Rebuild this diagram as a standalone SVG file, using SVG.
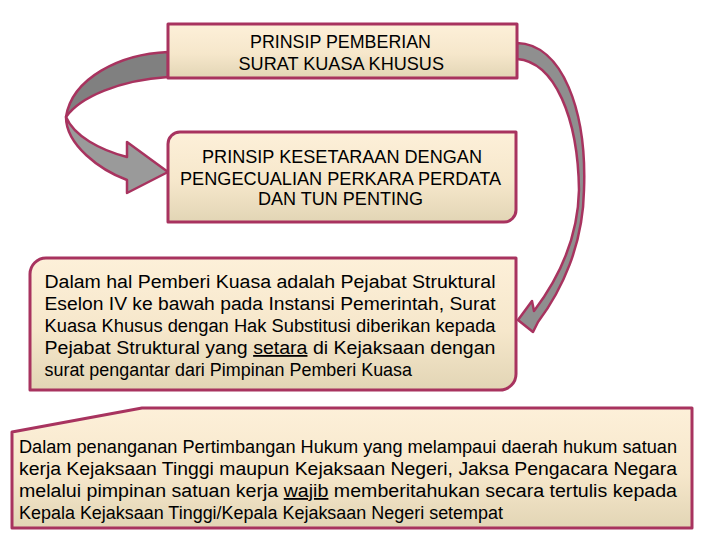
<svg xmlns="http://www.w3.org/2000/svg" width="720" height="540" viewBox="0 0 720 540">
<defs>
<linearGradient id="cream" x1="0" y1="0" x2="0" y2="1">
<stop offset="0" stop-color="#fdf0d9"/>
<stop offset="0.55" stop-color="#f6e7cb"/>
<stop offset="1" stop-color="#e2d5b5"/>
</linearGradient>
<style>
.box{fill:url(#cream);stroke:#a8335f;stroke-width:3;stroke-linejoin:round}
.arr{stroke:#a8335f;stroke-width:2.5;stroke-linejoin:round}
.t{font-family:"Liberation Sans Narrow","Liberation Sans",Arial,sans-serif;font-size:18px;fill:#000}
</style>
</defs>
<rect width="720" height="540" fill="#fff"/>
<g id="connectors">
<path class="arr" fill="#808080" d="M168,52 C120,54 72,78 66,117 C80,97 120,80 168,77 Z"/>
<path class="arr" fill="#9a9a9a" d="M66,117 C66,145 100,170 127,180 L127,193 L168,172 L127,142 L127,157 C100,150 74,136 66,117 Z"/>
<path class="arr" fill="#8f8f8f" d="M517,43 C562,44 587,110 584,190 C583,245 562,290 538,322 L533,332 L518,320 L532,301 L534,311 C556,282 578,240 579,190 C578,118 555,62 517,59 Z"/>
</g>
<g id="node1">
<rect class="box" x="168" y="24" width="349" height="54"/>
<text class="t" x="250" y="48" textLength="181" lengthAdjust="spacingAndGlyphs">PRINSIP PEMBERIAN</text>
<text class="t" x="238.5" y="70" textLength="205.5" lengthAdjust="spacingAndGlyphs">SURAT KUASA KHUSUS</text>
</g>
<g id="node2">
<path class="box" d="M180,132 H516 V210 A12,12 0 0 1 504,222 H168 V144 A12,12 0 0 1 180,132 Z"/>
<text class="t" x="202" y="163" textLength="280" lengthAdjust="spacingAndGlyphs">PRINSIP KESETARAAN DENGAN</text>
<text class="t" x="180" y="185" textLength="321" lengthAdjust="spacingAndGlyphs">PENGECUALIAN PERKARA PERDATA</text>
<text class="t" x="258" y="205" textLength="165" lengthAdjust="spacingAndGlyphs">DAN TUN PENTING</text>
</g>
<g id="node3">
<path class="box" d="M46,258 H516 V374 A16,16 0 0 1 500,390 H30 V274 A16,16 0 0 1 46,258 Z"/>
<text class="t" x="44.5" y="288" textLength="451" lengthAdjust="spacingAndGlyphs">Dalam hal Pemberi Kuasa adalah Pejabat Struktural</text>
<text class="t" x="44.5" y="310" textLength="451" lengthAdjust="spacingAndGlyphs">Eselon IV ke bawah pada Instansi Pemerintah, Surat</text>
<text class="t" x="44.5" y="332" textLength="451" lengthAdjust="spacingAndGlyphs">Kuasa Khusus dengan Hak Substitusi diberikan kepada</text>
<text class="t" x="44.5" y="354" textLength="451" lengthAdjust="spacingAndGlyphs">Pejabat Struktural yang <tspan text-decoration="underline">setara</tspan> di Kejaksaan dengan</text>
<text class="t" x="44.5" y="375.5" textLength="367.5" lengthAdjust="spacingAndGlyphs">surat pengantar dari Pimpinan Pemberi Kuasa</text>
</g>
<g id="node4">
<path class="box" d="M12,432 L142,408 H692 V528 H12 Z"/>
<text class="t" x="19" y="453" textLength="658" lengthAdjust="spacingAndGlyphs">Dalam penanganan Pertimbangan Hukum yang melampaui daerah hukum satuan</text>
<text class="t" x="19" y="475" textLength="658" lengthAdjust="spacingAndGlyphs">kerja Kejaksaan Tinggi maupun Kejaksaan Negeri, Jaksa Pengacara Negara</text>
<text class="t" x="19" y="497" textLength="658" lengthAdjust="spacingAndGlyphs">melalui pimpinan satuan kerja <tspan text-decoration="underline">wajib</tspan> memberitahukan secara tertulis kepada</text>
<text class="t" x="19" y="519" textLength="484" lengthAdjust="spacingAndGlyphs">Kepala Kejaksaan Tinggi/Kepala Kejaksaan Negeri setempat</text>
</g>
</svg>
